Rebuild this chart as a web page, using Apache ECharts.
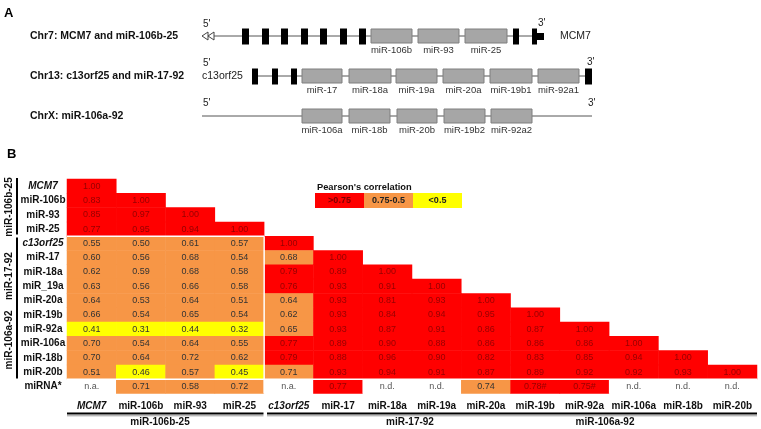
<!DOCTYPE html>
<html><head><meta charset="utf-8">
<script src="https://cdn.jsdelivr.net/npm/echarts@6/dist/echarts.min.js"></script>
<style>html,body{margin:0;padding:0;background:#fff}#c{width:761px;height:429px}</style>
</head><body><div id="c"></div>
<script>
// ---------- Panel A : gene structures (positions along the locus, arbitrary units) ----------
const geneRows = ['Chr7: MCM7 and miR-106b-25', 'Chr13: c13orf25 and miR-17-92', 'ChrX: miR-106a-92'];
const backbones = [[0, 0, 330], [1, 50, 383], [2, 0, 390]];
const exons = [[0, 40, 47], [0, 60, 67], [0, 79, 86], [0, 99, 106], [0, 118, 125], [0, 138, 145], [0, 157, 164], [0, 311, 317],
               [1, 50, 56], [1, 70, 76], [1, 89, 95], [1, 383, 390]];
const tailExon = [[0, 330, 342]];
const arrowHeads = [[0, 0]];
const hairpins = [[0, 169, 210], [0, 216, 257], [0, 263, 305],
                  [1, 100, 140], [1, 147, 189], [1, 194, 235], [1, 241, 282], [1, 288, 330], [1, 336, 377],
                  [2, 100, 140], [2, 147, 188], [2, 195, 235], [2, 242, 283], [2, 289, 330]];
const hairpinNames = ['miR-106b', 'miR-93', 'miR-25',
                      'miR-17', 'miR-18a', 'miR-19a', 'miR-20a', 'miR-19b1', 'miR-92a1',
                      'miR-106a', 'miR-18b', 'miR-20b', 'miR-19b2', 'miR-92a2'];
const geneNotes = [[0, 1, -12], [1, 1, -12.5], [2, 1, -13], [0, 336, -13], [1, 385, -13.5], [2, 386, -13], [1, 0, 0], [0, 358, 0]];
const geneNoteText = ["5'", "5'", "5'", "3'", "3'", "3'", 'c13orf25', 'MCM7'];

// ---------- Panel B : correlation matrix ----------
const colNames = ['MCM7', 'miR-106b', 'miR-93', 'miR-25', 'c13orf25', 'miR-17', 'miR-18a', 'miR-19a', 'miR-20a', 'miR-19b', 'miR-92a', 'miR-106a', 'miR-18b', 'miR-20b'];
const rowNames = ['MCM7', 'miR-106b', 'miR-93', 'miR-25', 'c13orf25', 'miR-17', 'miR-18a', 'miR_19a', 'miR-20a', 'miR-19b', 'miR-92a', 'miR-106a', 'miR-18b', 'miR-20b', 'miRNA*'];
const italicNames = ['MCM7', 'c13orf25'];
const corr = [
  [1.00],
  [0.83, 1.00],
  [0.85, 0.97, 1.00],
  [0.77, 0.95, 0.94, 1.00],
  [0.55, 0.50, 0.61, 0.57, 1.00],
  [0.60, 0.56, 0.68, 0.54, 0.68, 1.00],
  [0.62, 0.59, 0.68, 0.58, 0.79, 0.89, 1.00],
  [0.63, 0.56, 0.66, 0.58, 0.76, 0.93, 0.91, 1.00],
  [0.64, 0.53, 0.64, 0.51, 0.64, 0.93, 0.81, 0.93, 1.00],
  [0.66, 0.54, 0.65, 0.54, 0.62, 0.93, 0.84, 0.94, 0.95, 1.00],
  [0.41, 0.31, 0.44, 0.32, 0.65, 0.93, 0.87, 0.91, 0.86, 0.87, 1.00],
  [0.70, 0.54, 0.64, 0.55, 0.77, 0.89, 0.90, 0.88, 0.86, 0.86, 0.86, 1.00],
  [0.70, 0.64, 0.72, 0.62, 0.79, 0.88, 0.96, 0.90, 0.82, 0.83, 0.85, 0.94, 1.00],
  [0.51, 0.46, 0.57, 0.45, 0.71, 0.93, 0.94, 0.91, 0.87, 0.89, 0.92, 0.92, 0.93, 1.00]
];
const mirnaStar = ['n.a.', '0.71', '0.58', '0.72', 'n.a.', '0.77', 'n.d.', 'n.d.', '0.74', '0.78#', '0.75#', 'n.d.', 'n.d.', 'n.d.'];
const legendLabels = ['>0.75', '0.75-0.5', '<0.5'];
const clusterNames = ['miR-106b-25', 'miR-17-92', 'miR-106a-92'];

// ---------- styling / layout ----------
const FONT = 'Liberation Sans, Arial, sans-serif';
const RED = '#FF0000', ORANGE = '#F79646', YELLOW = '#FFFF00';
const classColors = [RED, ORANGE, YELLOW, '#FFFFFF'];
const classText = ['#960000', '#333333', '#333333', '#555555'];
const HG = { left: 67, top: 179, width: 690, height: 214.5 };
const cw = HG.width / colNames.length, rh = HG.height / rowNames.length;

function cls(v) { return isNaN(v) ? 3 : (v >= 0.75 ? 0 : (v >= 0.5 ? 1 : 2)); }
const cellData = [], cellText = [];
corr.forEach((row, i) => row.forEach((v, j) => {
  const c = cls(v);
  cellData.push({ value: [j, i, v, c], label: { color: classText[c] } });
  cellText.push(v.toFixed(2));
}));
mirnaStar.forEach((t, j) => {
  const v = parseFloat(t), c = cls(v);
  cellData.push({ value: [j, rowNames.length - 1, isNaN(v) ? 0 : v, c], label: { color: classText[c] } });
  cellText.push(t);
});

function nameItem(n) {
  return italicNames.includes(n)
    ? { value: n, textStyle: { fontStyle: 'italic', fontWeight: 'bold', fontSize: 10, color: '#111', align: 'center', fontFamily: FONT } }
    : n;
}

const chart = echarts.init(document.getElementById('c'), null, { renderer: 'canvas' });

function rectAt(api, s, e, row, h, dy, style) {
  const a = api.coord([s, row]), b = api.coord([e, row]);
  return { type: 'rect', shape: { x: a[0], y: a[1] - h / 2 + (dy || 0), width: b[0] - a[0], height: h }, style: style };
}
const enc = { x: [1, 2], y: 0 };

const g = [];
// panel letters
g.push({ type: 'text', left: 4, top: 7, style: { text: 'A', font: 'bold 13px ' + FONT, fill: '#000' } });
g.push({ type: 'text', left: 7, top: 148, style: { text: 'B', font: 'bold 13px ' + FONT, fill: '#000' } });
// legend
g.push({ type: 'text', x: 317, y: 187, style: { text: "Pearson's correlation", font: 'bold 9.3px ' + FONT, fill: '#111', verticalAlign: 'middle' } });
legendLabels.forEach((t, k) => {
  g.push({ type: 'rect', shape: { x: 315 + k * 49, y: 193, width: 49, height: 15 }, style: { fill: classColors[k] } });
  g.push({ type: 'text', x: 315 + k * 49 + 24.5, y: 200.5, style: { text: t, font: 'bold 9px ' + FONT, fill: k === 0 ? '#7a0000' : '#222', align: 'center', verticalAlign: 'middle' } });
});
// separators inside heatmap
const sepX = HG.left + 4 * cw, sepY = HG.top + 4 * rh, lastY = HG.top + 14 * rh;
g.push({ type: 'line', shape: { x1: sepX, y1: sepY, x2: sepX, y2: HG.top + HG.height }, style: { stroke: '#fff', lineWidth: 1.5 }, z: 10 });
g.push({ type: 'line', shape: { x1: HG.left, y1: sepY, x2: sepX, y2: sepY }, style: { stroke: '#fff', lineWidth: 1.5 }, z: 10 });
g.push({ type: 'line', shape: { x1: HG.left, y1: lastY, x2: HG.left + HG.width, y2: lastY }, style: { stroke: '#fff', lineWidth: 1.5 }, z: 10 });
// left brackets
g.push({ type: 'line', shape: { x1: 17, y1: 178, x2: 17, y2: 234.5 }, style: { stroke: '#000', lineWidth: 2 } });
g.push({ type: 'line', shape: { x1: 17, y1: 237.5, x2: 17, y2: 378.5 }, style: { stroke: '#000', lineWidth: 2 } });
[[207, clusterNames[0]], [276, clusterNames[1]], [340, clusterNames[2]]].forEach(([y, t]) => {
  g.push({ type: 'text', x: 9, y: y, rotation: Math.PI / 2, style: { text: t, font: 'bold 10px ' + FONT, fill: '#111', align: 'center', verticalAlign: 'middle' } });
});
// bottom cluster rules
[[67, 263.5], [267, 757]].forEach(([a, b]) => {
  g.push({ type: 'line', shape: { x1: a, y1: 413.5, x2: b, y2: 413.5 }, style: { stroke: '#000', lineWidth: 2 } });
  g.push({ type: 'line', shape: { x1: a, y1: 415.8, x2: b, y2: 415.8 }, style: { stroke: '#999', lineWidth: 1 } });
});
[[160, clusterNames[0]], [410, clusterNames[1]], [605, clusterNames[2]]].forEach(([x, t]) => {
  g.push({ type: 'text', x: x, y: 422.5, style: { text: t, font: 'bold 10px ' + FONT, fill: '#111', align: 'center', verticalAlign: 'middle' } });
});

const option = {
  backgroundColor: '#fff',
  animation: false,
  textStyle: { fontFamily: FONT },
  grid: [
    { left: 202, top: 16, width: 390, height: 120 },
    { left: HG.left, top: HG.top, width: HG.width, height: HG.height }
  ],
  xAxis: [
    { type: 'value', gridIndex: 0, min: 0, max: 390, show: false },
    { type: 'category', gridIndex: 1, data: colNames.map(nameItem), axisLine: { show: false }, axisTick: { show: false },
      axisLabel: { interval: 0, margin: 8, fontSize: 10, fontWeight: 'bold', color: '#111', fontFamily: FONT }, splitLine: { show: false } }
  ],
  yAxis: [
    { type: 'category', gridIndex: 0, data: geneRows, inverse: true, axisLine: { show: false }, axisTick: { show: false }, splitLine: { show: false },
      axisLabel: { align: 'left', margin: 172, fontSize: 10.5, fontWeight: 'bold', color: '#111', fontFamily: FONT } },
    { type: 'category', gridIndex: 1, data: rowNames.map(nameItem), inverse: true, axisLine: { show: false }, axisTick: { show: false }, splitLine: { show: false },
      axisLabel: { align: 'center', margin: 24, interval: 0, fontSize: 10, fontWeight: 'bold', color: '#111', fontFamily: FONT } }
  ],
  visualMap: {
    type: 'piecewise', show: false, dimension: 3, seriesIndex: 6,
    pieces: classColors.map((c, k) => ({ value: k, color: c }))
  },
  series: [
    { type: 'custom', xAxisIndex: 0, yAxisIndex: 0, data: backbones, encode: enc, silent: true, z: 1,
      renderItem: (p, api) => { const a = api.coord([api.value(1), api.value(0)]), b = api.coord([api.value(2), api.value(0)]);
        return { type: 'line', shape: { x1: a[0], y1: a[1], x2: b[0], y2: b[1] }, style: { stroke: '#555', lineWidth: 1 } }; } },
    { type: 'custom', xAxisIndex: 0, yAxisIndex: 0, data: exons, encode: enc, silent: true, z: 3,
      renderItem: (p, api) => rectAt(api, api.value(1), api.value(2), api.value(0), 16, 0.5, { fill: '#000' }) },
    { type: 'custom', xAxisIndex: 0, yAxisIndex: 0, data: tailExon, encode: enc, silent: true, z: 3,
      renderItem: (p, api) => { const s = api.value(1), e = api.value(2), r = api.value(0), m = s + 5;
        return { type: 'group', children: [rectAt(api, s, m, r, 16, 0.5, { fill: '#000' }), rectAt(api, m, e, r, 7, 0.5, { fill: '#000' })] }; } },
    { type: 'custom', xAxisIndex: 0, yAxisIndex: 0, data: arrowHeads, encode: { x: 1, y: 0 }, silent: true, z: 3,
      renderItem: (p, api) => { const a = api.coord([api.value(1), api.value(0)]);
        const tri = (x) => ({ type: 'polygon', shape: { points: [[x, a[1]], [x + 6, a[1] - 4], [x + 6, a[1] + 4]] }, style: { fill: '#fff', stroke: '#444', lineWidth: 1 } });
        return { type: 'group', children: [tri(a[0]), tri(a[0] + 6)] }; } },
    { type: 'custom', xAxisIndex: 0, yAxisIndex: 0, data: hairpins, encode: enc, silent: true, z: 4,
      renderItem: (p, api) => { const s = api.value(1), e = api.value(2), r = api.value(0);
        const box = rectAt(api, s, e, r, 14, 0, { fill: '#A6A6A6', stroke: '#7F7F7F', lineWidth: 1 });
        const c = api.coord([(s + e) / 2, r]);
        return { type: 'group', children: [box, { type: 'text', x: c[0], y: c[1] + 14.5,
          style: { text: hairpinNames[p.dataIndex], font: '9.5px ' + FONT, fill: '#333', align: 'center', verticalAlign: 'middle' } }] }; } },
    { type: 'custom', xAxisIndex: 0, yAxisIndex: 0, data: geneNotes, encode: { x: 1, y: 0 }, silent: true, z: 5,
      renderItem: (p, api) => { const a = api.coord([api.value(1), api.value(0)]); const t = geneNoteText[p.dataIndex];
        return { type: 'text', x: a[0], y: a[1] + api.value(2),
          style: { text: t, font: (t.length > 2 ? '10.5px ' : '10px ') + FONT, fill: '#222', align: 'left', verticalAlign: 'middle' } }; } },
    { type: 'heatmap', xAxisIndex: 1, yAxisIndex: 1, data: cellData, silent: true,
      label: { show: true, fontSize: 9, fontFamily: FONT, formatter: (p) => cellText[p.dataIndex] },
      emphasis: { disabled: true } }
  ],
  graphic: g
};
chart.setOption(option);
</script></body></html>
